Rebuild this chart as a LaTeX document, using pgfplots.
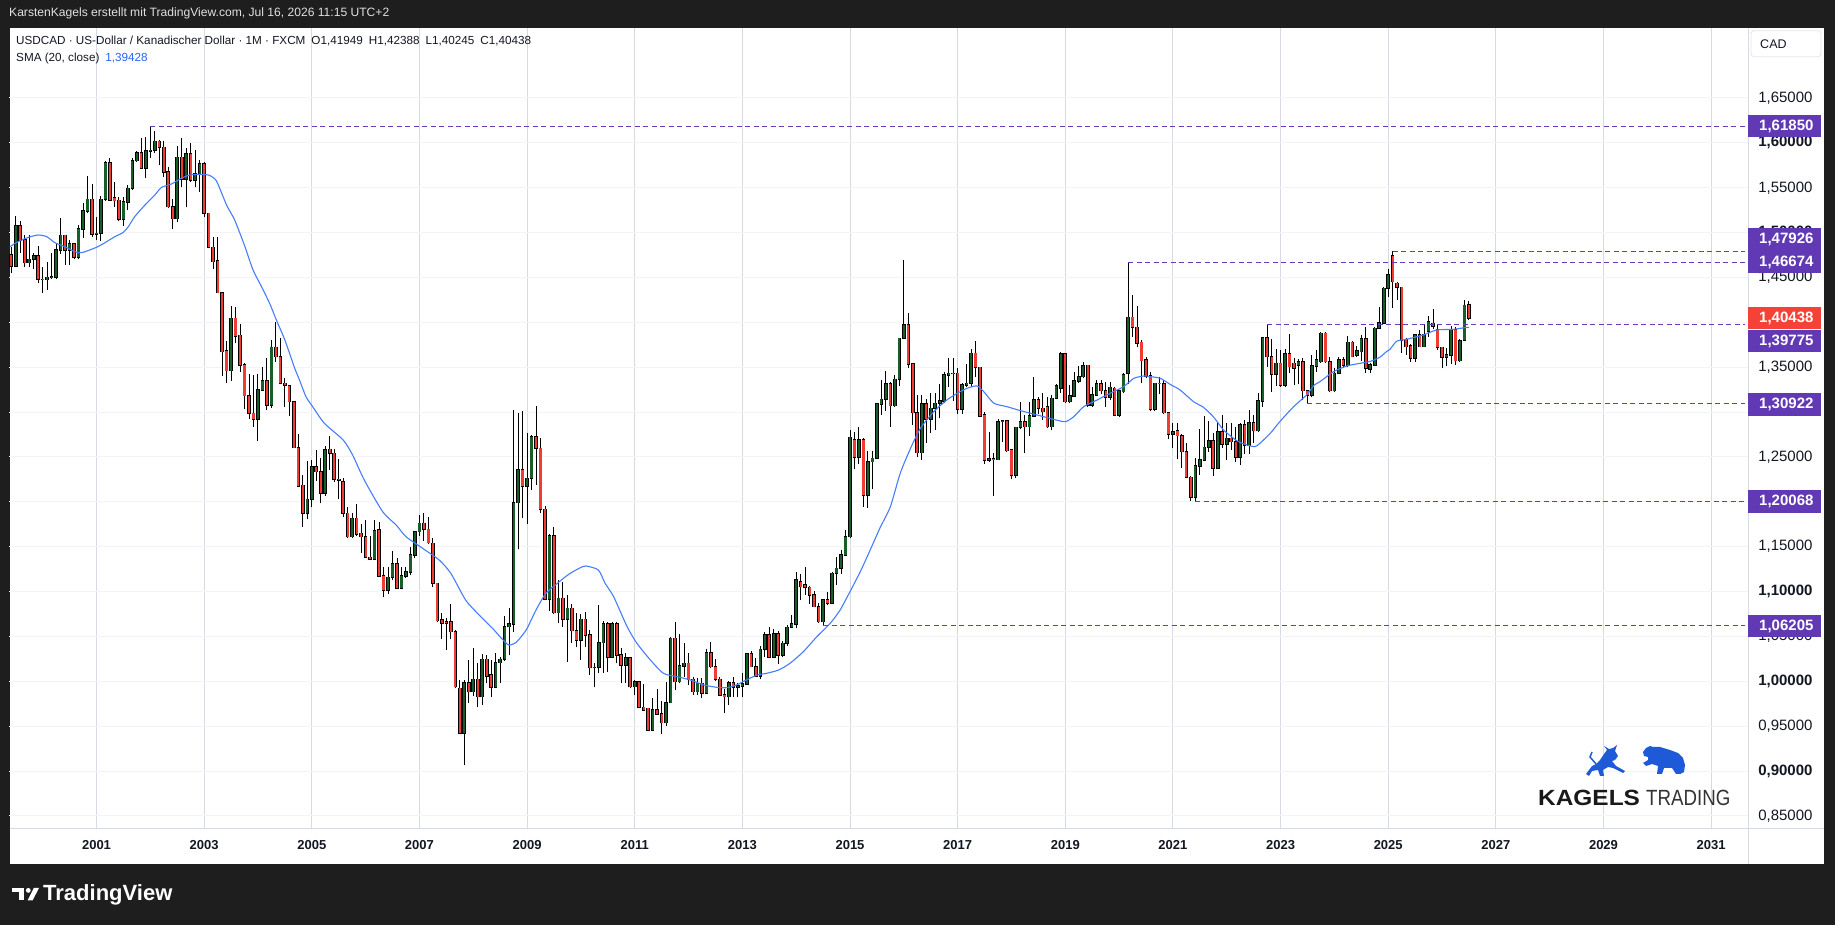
\documentclass[border=0pt]{standalone}
\usepackage{pgfplots}
\pgfplotsset{compat=1.18}
\usepackage{pgfplotstable}
\usepackage{fontspec}
\setmainfont{Liberation Sans}
\definecolor{frame}{RGB}{30,30,30}
\definecolor{upc}{RGB}{24,94,40}
\definecolor{dnc}{RGB}{240,60,50}
\definecolor{gridc}{RGB}{214,218,228}
\definecolor{hgrid}{RGB}{243,244,248}
\definecolor{lvl}{RGB}{103,58,183}
\definecolor{lvlbox}{RGB}{98,57,180}
\definecolor{curbox}{RGB}{244,67,54}
\definecolor{sma}{RGB}{70,125,255}
\definecolor{smatxt}{RGB}{41,98,255}
\definecolor{txt}{RGB}{19,23,34}
\definecolor{logoblue}{RGB}{30,90,215}

\pgfplotstableread{
m o h l c
-19 1.4750 1.4843 1.4546 1.4628
-18 1.4628 1.5185 1.4613 1.5073
-17 1.5073 1.5133 1.4769 1.4917
-16 1.4917 1.4973 1.4620 1.4665
-15 1.4665 1.4973 1.4620 1.4702
-14 1.4702 1.4769 1.4590 1.4739
-13 1.4739 1.4850 1.4434 1.4479
-12 1.4479 1.4620 1.4330 1.4475
-11 1.4475 1.4676 1.4360 1.4501
-10 1.4501 1.4769 1.4487 1.4505
-9 1.4505 1.4888 1.4487 1.4806
-8 1.4806 1.5159 1.4761 1.4969
-7 1.4969 1.4975 1.4639 1.4806
-6 1.4806 1.4917 1.4639 1.4873
-5 1.4873 1.4880 1.4702 1.4724
-4 1.4724 1.5085 1.4702 1.5040
-3 1.5040 1.5326 1.4936 1.5241
-2 1.5241 1.5631 1.5215 1.5371
-1 1.5371 1.5541 1.4955 1.4984
0 1.4984 1.5170 1.4917 1.4990
1 1.4990 1.5408 1.4910 1.5371
2 1.5371 1.5801 1.5356 1.5779
3 1.5779 1.5827 1.5356 1.5363
4 1.5385 1.5567 1.5289 1.5356
5 1.5360 1.5393 1.5133 1.5148
6 1.5148 1.5393 1.5073 1.5341
7 1.5341 1.5530 1.5252 1.5493
8 1.5493 1.5827 1.5475 1.5801
9 1.5801 1.5913 1.5790 1.5891
10 1.5891 1.6050 1.5716 1.5716
11 1.5716 1.6061 1.5605 1.5909
12 1.5909 1.6185 1.5835 1.5915
13 1.5915 1.6136 1.5883 1.6017
14 1.6017 1.6032 1.5753 1.5950
15 1.5950 1.6024 1.5616 1.5675
16 1.5675 1.5727 1.5270 1.5289
17 1.5289 1.5371 1.5036 1.5155
18 1.5155 1.5965 1.5122 1.5839
19 1.5839 1.6050 1.5504 1.5593
20 1.5593 1.5939 1.5281 1.5876
21 1.5876 1.5995 1.5567 1.5586
22 1.5586 1.5920 1.5504 1.5653
23 1.5653 1.5809 1.5456 1.5764
24 1.5764 1.5790 1.5177 1.5215
25 1.5215 1.5220 1.4830 1.4836
26 1.4836 1.4947 1.4590 1.4676
27 1.4683 1.4947 1.4323 1.4330
28 1.4330 1.4335 1.3406 1.3673
29 1.3680 1.3796 1.3320 1.3461
30 1.3461 1.4182 1.3350 1.4044
31 1.4044 1.4167 1.3766 1.3848
32 1.3855 1.3981 1.3450 1.3521
33 1.3525 1.3543 1.3030 1.3183
34 1.3183 1.3424 1.2919 1.2986
35 1.2986 1.3413 1.2837 1.2919
36 1.2919 1.3424 1.2681 1.3246
37 1.3246 1.3506 1.3239 1.3350
38 1.3350 1.3599 1.3023 1.3079
39 1.3079 1.3803 1.3042 1.3721
40 1.3721 1.4007 1.3562 1.3617
41 1.3617 1.3822 1.3309 1.3320
42 1.3320 1.3383 1.3060 1.3298
43 1.3290 1.3295 1.2956 1.3116
44 1.3116 1.3120 1.2596 1.2603
45 1.2603 1.2755 1.2169 1.2176
46 1.2183 1.2299 1.1723 1.1871
47 1.1871 1.2458 1.1805 1.2027
48 1.2028 1.2466 1.1946 1.2392
49 1.2392 1.2578 1.2236 1.2336
50 1.2336 1.2485 1.1983 1.2095
51 1.2095 1.2622 1.2065 1.2578
52 1.2585 1.2734 1.2355 1.2540
53 1.2540 1.2585 1.2225 1.2251
54 1.2251 1.2474 1.2028 1.2245
55 1.2222 1.2262 1.1835 1.1872
56 1.1872 1.1946 1.1593 1.1612
57 1.1612 1.1872 1.1593 1.1816
58 1.1816 1.1976 1.1619 1.1641
59 1.1648 1.1753 1.1433 1.1612
60 1.1612 1.1798 1.1370 1.1381
61 1.1381 1.1619 1.1350 1.1362
62 1.1359 1.1798 1.1352 1.1679
63 1.1686 1.1779 1.1166 1.1173
64 1.1173 1.1277 1.0936 1.1018
65 1.1018 1.1277 1.0973 1.1159
66 1.1159 1.1456 1.1129 1.1307
67 1.1307 1.1370 1.1030 1.1036
68 1.1036 1.1277 1.1025 1.1173
69 1.1173 1.1277 1.1147 1.1218
70 1.1218 1.1500 1.1185 1.1407
71 1.1407 1.1679 1.1370 1.1667
72 1.1667 1.1853 1.1619 1.1760
73 1.1760 1.1872 1.1567 1.1694
74 1.1694 1.1827 1.1530 1.1545
75 1.1538 1.1593 1.1055 1.1092
76 1.1092 1.1100 1.0665 1.0676
77 1.0683 1.0765 1.0468 1.0646
78 1.0661 1.0702 1.0349 1.0646
79 1.0661 1.0862 1.0468 1.0553
80 1.0553 1.0570 0.9922 0.9940
81 0.9922 1.0015 0.9410 0.9420
82 0.9420 1.0015 0.9064 0.9985
83 0.9985 1.0237 0.9762 0.9885
84 0.9885 1.0367 0.9836 1.0022
85 1.0022 1.0200 0.9710 0.9829
86 0.9829 1.0304 0.9736 1.0245
87 1.0245 1.0293 0.9977 1.0059
88 1.0070 1.0237 0.9822 0.9933
89 0.9933 1.0312 0.9922 1.0208
90 1.0208 1.0275 0.9977 1.0245
91 1.0245 1.0728 1.0230 1.0609
92 1.0609 1.0813 1.0293 1.0639
93 1.0639 1.3023 1.0553 1.1991
94 1.1991 1.2994 1.1471 1.2355
95 1.2355 1.3016 1.1816 1.2176
96 1.2176 1.2763 1.1753 1.2262
97 1.2262 1.2745 1.2132 1.2726
98 1.2726 1.3068 1.2188 1.2596
99 1.2596 1.2708 1.1872 1.1916
100 1.1916 1.1953 1.0906 1.0913
101 1.0913 1.1642 1.0787 1.1619
102 1.1619 1.1723 1.0750 1.0765
103 1.0765 1.1129 1.0646 1.0925
104 1.0925 1.1110 1.0609 1.0691
105 1.0691 1.0962 1.0219 1.0813
106 1.0813 1.0862 1.0431 1.0564
107 1.0564 1.0757 1.0379 1.0460
108 1.0460 1.0750 1.0237 1.0691
109 1.0691 1.0776 1.0386 1.0516
110 1.0516 1.0572 1.0070 1.0152
111 1.0152 1.0200 0.9933 1.0155
112 1.0155 1.0850 1.0089 1.0431
113 1.0431 1.0676 1.0096 1.0639
114 1.0639 1.0665 1.0107 1.0267
115 1.0267 1.0665 1.0256 1.0639
116 1.0639 1.0665 1.0200 1.0293
117 1.0293 1.0367 0.9985 1.0182
118 1.0182 1.0312 0.9977 1.0263
119 1.0263 1.0275 0.9929 0.9940
120 0.9940 1.0015 0.9847 0.9996
121 0.9996 1.0007 0.9699 0.9710
122 0.9710 0.9970 0.9673 0.9680
123 0.9699 0.9702 0.9450 0.9457
124 0.9457 0.9810 0.9450 0.9680
125 0.9680 0.9910 0.9625 0.9636
126 0.9636 0.9784 0.9413 0.9539
127 0.9539 0.9996 0.9502 0.9762
128 0.9762 1.0497 0.9755 1.0479
129 1.0479 1.0665 0.9903 0.9996
130 0.9996 1.0527 0.9977 1.0171
131 1.0171 1.0423 1.0052 1.0200
132 1.0200 1.0312 0.9959 1.0022
133 1.0022 1.0052 0.9847 0.9885
134 0.9885 1.0033 0.9847 0.9977
135 0.9977 1.0033 0.9810 0.9866
136 0.9866 1.0356 0.9859 1.0319
137 1.0319 1.0442 1.0145 1.0163
138 1.0163 1.0245 1.0007 1.0022
139 1.0022 1.0052 0.9836 0.9847
140 0.9847 0.9910 0.9643 0.9829
141 0.9829 1.0007 0.9736 0.9985
142 0.9985 1.0052 0.9821 0.9933
143 0.9933 0.9977 0.9829 0.9948
144 0.9945 1.0096 0.9821 0.9970
145 0.9970 1.0312 0.9959 1.0304
146 1.0304 1.0341 1.0156 1.0163
147 1.0163 1.0256 1.0052 1.0059
148 1.0059 1.0393 1.0022 1.0356
149 1.0356 1.0553 1.0267 1.0516
150 1.0516 1.0601 1.0256 1.0267
151 1.0267 1.0579 1.0256 1.0527
152 1.0527 1.0564 1.0193 1.0293
153 1.0293 1.0453 1.0275 1.0423
154 1.0423 1.0627 1.0393 1.0601
155 1.0601 1.0739 1.0590 1.0639
156 1.0639 1.1222 1.0590 1.1129
157 1.1110 1.1196 1.0906 1.1055
158 1.1073 1.1278 1.0962 1.1047
159 1.1047 1.1062 1.0861 1.0962
160 1.0962 1.1010 1.0824 1.0832
161 1.0832 1.0869 1.0654 1.0665
162 1.0665 1.0913 1.06205 1.0906
163 1.0906 1.0999 1.0850 1.0869
164 1.0869 1.1222 1.0861 1.1203
165 1.1203 1.1389 1.1073 1.1259
166 1.1259 1.1463 1.1196 1.1408
167 1.1408 1.1686 1.1400 1.1612
168 1.1612 1.2801 1.1593 1.2719
169 1.2689 1.2782 1.2362 1.2496
170 1.2496 1.2838 1.2422 1.2689
171 1.2689 1.2708 1.1946 1.2076
172 1.2076 1.2570 1.1928 1.2448
173 1.2448 1.2570 1.2139 1.2485
174 1.2485 1.3098 1.2474 1.3090
175 1.3090 1.3358 1.2968 1.3142
176 1.3142 1.3458 1.3016 1.3313
177 1.3313 1.3339 1.2838 1.3072
178 1.3072 1.3413 1.3060 1.3365
179 1.3365 1.3825 1.3291 1.3822
180 1.3822 1.4695 1.3811 1.3970
181 1.3970 1.4108 1.3488 1.3536
182 1.3536 1.3551 1.2856 1.2994
183 1.2994 1.3190 1.2503 1.2548
184 1.2548 1.3190 1.2466 1.3090
185 1.3090 1.3142 1.2659 1.2919
186 1.2919 1.3209 1.2763 1.3042
187 1.3042 1.3209 1.2800 1.3098
188 1.3098 1.3313 1.2930 1.3124
189 1.3124 1.3450 1.3098 1.3413
190 1.3413 1.3599 1.3283 1.3432
191 1.3432 1.3599 1.3124 1.3428
192 1.3432 1.3488 1.2979 1.3031
193 1.3031 1.3320 1.2973 1.3302
194 1.3302 1.3536 1.3283 1.3320
195 1.3320 1.3699 1.3283 1.3655
196 1.3655 1.3792 1.3395 1.3499
197 1.3499 1.3505 1.2949 1.2956
198 1.2968 1.3005 1.2422 1.2466
199 1.2466 1.2782 1.2447 1.2478
200 1.2478 1.2540 1.2065 1.2470
201 1.2470 1.2919 1.2466 1.2893
202 1.2893 1.2912 1.2670 1.2901
203 1.2900 1.2912 1.2559 1.2570
204 1.2577 1.2585 1.2251 1.2299
205 1.2299 1.2838 1.2262 1.2830
206 1.2830 1.3116 1.2808 1.2893
207 1.2893 1.2967 1.2540 1.2838
208 1.2838 1.3116 1.2734 1.2956
209 1.2956 1.3395 1.2949 1.3135
210 1.3135 1.3172 1.2979 1.3042
211 1.3042 1.3209 1.2912 1.3005
212 1.3060 1.3172 1.2819 1.2838
213 1.2838 1.3190 1.2801 1.3153
214 1.3153 1.3313 1.3142 1.3291
215 1.3265 1.3673 1.3209 1.3647
216 1.3647 1.3662 1.3105 1.3116
217 1.3116 1.3302 1.3098 1.3179
218 1.3179 1.3450 1.3172 1.3346
219 1.3346 1.3514 1.3328 1.3395
220 1.3395 1.3562 1.3376 1.3514
221 1.3521 1.3525 1.3060 1.3079
222 1.3079 1.3283 1.3060 1.3190
223 1.3190 1.3358 1.3179 1.3313
224 1.3313 1.3358 1.3201 1.3239
225 1.3239 1.3339 1.3060 1.3164
226 1.3164 1.3339 1.3135 1.3276
227 1.3265 1.3283 1.2956 1.2967
228 1.2967 1.3246 1.2949 1.3239
229 1.3228 1.3432 1.3216 1.3413
230 1.3432 1.46674 1.3313 1.4056
231 1.4056 1.4305 1.3840 1.3944
232 1.3944 1.4182 1.3722 1.3766
233 1.3777 1.3803 1.3328 1.3573
234 1.3580 1.3618 1.3376 1.3402
235 1.3402 1.3450 1.3016 1.3031
236 1.3031 1.3328 1.3016 1.3320
237 1.3320 1.3387 1.3202 1.3318
238 1.3313 1.3358 1.2979 1.2993
239 1.2993 1.3005 1.2696 1.2752
240 1.2752 1.2875 1.2596 1.2780
241 1.2789 1.2882 1.2473 1.2737
242 1.2734 1.2756 1.2373 1.2559
243 1.2559 1.2659 1.2262 1.2273
244 1.2273 1.2290 1.2013 1.2050
245 1.2050 1.2485 1.20068 1.2399
246 1.2399 1.2808 1.2299 1.2466
247 1.2466 1.2956 1.2459 1.2607
248 1.2607 1.2904 1.2559 1.2682
249 1.2682 1.2771 1.2288 1.2373
250 1.2373 1.2882 1.2362 1.2782
251 1.2782 1.2968 1.2596 1.2644
252 1.2644 1.2875 1.2466 1.2708
253 1.2708 1.2875 1.2578 1.2670
254 1.2670 1.2830 1.2448 1.2496
255 1.2496 1.2882 1.2410 1.2856
256 1.2856 1.2912 1.2533 1.2633
257 1.2633 1.3023 1.2533 1.2882
258 1.2882 1.2968 1.2652 1.2793
259 1.2793 1.3216 1.2782 1.3124
260 1.3124 1.3840 1.3060 1.3829
261 1.3829 1.39775 1.3506 1.3618
262 1.3618 1.3811 1.3228 1.3424
263 1.3424 1.3699 1.3291 1.3543
264 1.3543 1.3692 1.3283 1.3302
265 1.3302 1.3699 1.3283 1.3647
266 1.3647 1.3866 1.3432 1.3506
267 1.3543 1.3599 1.3302 1.3488
268 1.3525 1.3588 1.3313 1.3562
269 1.3562 1.3599 1.3135 1.3239
270 1.3235 1.3246 1.30922 1.3190
271 1.3190 1.3636 1.3172 1.3514
272 1.3514 1.3692 1.3450 1.3580
273 1.3562 1.3896 1.3551 1.3878
274 1.3878 1.3896 1.3551 1.3562
275 1.3562 1.3618 1.3228 1.3239
276 1.3239 1.3488 1.3228 1.3432
277 1.3432 1.3610 1.3424 1.3580
278 1.3580 1.3610 1.3488 1.3525
279 1.3525 1.3848 1.3499 1.3777
280 1.3777 1.3790 1.3610 1.3618
281 1.3636 1.3736 1.3618 1.3684
282 1.3673 1.3859 1.3573 1.3814
283 1.3814 1.3944 1.3439 1.3488
284 1.3476 1.3543 1.3439 1.3525
285 1.3525 1.3944 1.3514 1.3933
286 1.3933 1.4175 1.3922 1.3996
287 1.3989 1.4398 1.3982 1.4379
288 1.4379 1.4591 1.4279 1.4528
289 1.4739 1.47926 1.4156 1.4453
290 1.4435 1.4453 1.4249 1.4390
291 1.4390 1.4395 1.3655 1.3803
292 1.3803 1.3822 1.3636 1.3729
293 1.3736 1.3759 1.3562 1.3599
294 1.3599 1.3865 1.3562 1.3859
295 1.3859 1.3915 1.3722 1.3729
296 1.3729 1.3970 1.3722 1.3859
297 1.3900 1.4071 1.3840 1.4004
298 1.3989 1.4145 1.3922 1.3960
299 1.3915 1.3970 1.3692 1.3722
300 1.3722 1.3729 1.3488 1.3610
301 1.3610 1.3711 1.3514 1.3636
302 1.3636 1.3959 1.3536 1.3915
303 1.3915 1.3944 1.3525 1.3573
304 1.3573 1.3811 1.3562 1.3792
305 1.3803 1.4249 1.3795 1.4190
306 1.41949 1.42388 1.40245 1.40438
}\candles

\newcommand\pbox[3]{%
  \fill[#1] (1748,#2-11.2) rectangle (1820.7,#2+11.2);
  \node[anchor=west, inner sep=0pt, text=white, font=\fontsize{15}{15}\selectfont\bfseries] at (1759,#2) {#3};}

\begin{document}
\begin{tikzpicture}[x=1pt,y=1pt]
\useasboundingbox (0,0) rectangle (1835,925);
\fill[frame] (0,0) rectangle (1835,925);
\fill[white] (9.5,61) rectangle (1824,897);

\begin{axis}[
  at={(9.5pt,96pt)}, anchor=south west, scale only axis,
  width=1738.5pt, height=801pt,
  xmin=-19.4, xmax=368.23, ymin=0.83542, ymax=1.728,
  axis line style={draw=none}, major tick length=0pt,
  xtick={0,24,...,360},
  xticklabels={2001,2003,2005,2007,2009,2011,2013,2015,2017,2019,2021,2023,2025,2027,2029,2031},
  xticklabel style={anchor=center, inner sep=0pt, yshift=-16.5pt, text=txt, font=\fontsize{13}{13}\selectfont\bfseries},
  ytick={0.85,0.90,0.95,1.00,1.05,1.10,1.15,1.20,1.25,1.30,1.35,1.40,1.45,1.50,1.55,1.60,1.65},
  yticklabels={{0,85000},{\bfseries 0,90000},{0,95000},{\bfseries 1,00000},{1,05000},{\bfseries 1,10000},{1,15000},{},{1,25000},{},{1,35000},{},{1,45000},{\bfseries 1,50000},{1,55000},{\bfseries 1,60000},{1,65000}},
  yticklabel pos=right,
  yticklabel style={anchor=west, inner sep=0pt, xshift=10pt, text=txt, font=\fontsize{15}{15}\selectfont},
  xmajorgrids, ymajorgrids,
  x grid style={gridc, line width=1pt},
  y grid style={hgrid, line width=1pt},
]
% wicks
\addplot[draw=none, mark=none, forget plot,
  error bars/.cd, y dir=plus, y explicit, error mark=none,
  error bar style={draw=black, line width=1pt}]
  table[x=m, y=l, y error expr=\thisrow{h}-\thisrow{l}] {\candles};
% up bodies
\addplot[draw=none, mark=none, forget plot,
  restrict expr to domain={\thisrow{c}-\thisrow{o}}{0:1},
  error bars/.cd, y dir=plus, y explicit, error mark=none,
  error bar style={draw=black, line width=3.6pt}]
  table[x=m, y expr=\thisrow{o}-0.0008, y error expr=\thisrow{c}-\thisrow{o}+0.0016] {\candles};
\addplot[draw=none, mark=none, forget plot,
  restrict expr to domain={\thisrow{c}-\thisrow{o}}{0:1},
  error bars/.cd, y dir=plus, y explicit, error mark=none,
  error bar style={draw=upc, line width=2.2pt}]
  table[x=m, y=o, y error expr=\thisrow{c}-\thisrow{o}] {\candles};
% down bodies
\addplot[draw=none, mark=none, forget plot,
  restrict expr to domain={\thisrow{o}-\thisrow{c}}{0.00001:1},
  error bars/.cd, y dir=plus, y explicit, error mark=none,
  error bar style={draw=black, line width=3.6pt}]
  table[x=m, y expr=\thisrow{c}-0.0008, y error expr=\thisrow{o}-\thisrow{c}+0.0016] {\candles};
\addplot[draw=none, mark=none, forget plot,
  restrict expr to domain={\thisrow{o}-\thisrow{c}}{0.00001:1},
  error bars/.cd, y dir=plus, y explicit, error mark=none,
  error bar style={draw=dnc, line width=2.2pt}]
  table[x=m, y=c, y error expr=\thisrow{o}-\thisrow{c}] {\candles};
% SMA 20
\addplot[sma, line width=1.1pt, smooth, tension=0.4, mark=none] coordinates {
(-19.3,1.4843) (-17.5,1.4899) (-15.2,1.4947) (-13,1.4973) (-11.1,1.4955) (-9.3,1.4888) (-7.1,1.4843) (-4.8,1.4787) (-3.3,1.4776) (0,1.4836) (1.9,1.4888) (4.1,1.4955) (5.9,1.5000) (7.1,1.5066) (8.5,1.5177) (10.8,1.5307) (13,1.5419) (14.5,1.5504) (16.7,1.5541) (18.9,1.5605) (20.8,1.5642) (23,1.5649) (24.9,1.5642) (26.7,1.5579) (29,1.5307) (30.8,1.5140) (33.1,1.4843) (34.9,1.4583) (36.8,1.4397) (38.6,1.4212) (40.1,1.4026) (42,1.3803) (44.2,1.3487) (45.2,1.3365) (46.7,1.3172) (48.2,1.3060) (50.8,1.2875) (55,1.2689) (57.1,1.2522) (59.7,1.2243) (63.8,1.1890) (66.8,1.1742) (69,1.1612) (72.7,1.1482) (76.4,1.1352) (79,1.1203) (82.3,1.0906) (85.3,1.0739) (88.3,1.0590) (90.5,1.0468) (91.9,1.0405) (93.5,1.0431) (95.8,1.0572) (98,1.0795) (100.2,1.0980) (103.2,1.1110) (105.4,1.1196) (107.6,1.1259) (109.1,1.1285) (111.9,1.1240) (113.4,1.1092) (115.3,1.0943) (118.3,1.0609) (120.5,1.0423) (123.5,1.0237) (126.4,1.0089) (129.4,1.0052) (132.4,1.0015) (135.4,0.9959) (138.3,0.9933) (140.6,0.9929) (142.7,0.9959) (144.9,1.0015) (147.3,1.0070) (149.4,1.0089) (152.1,1.0126) (154.6,1.0200) (157.6,1.0330) (160.6,1.0497) (163.6,1.0646) (165.8,1.0795) (168,1.0999) (170.3,1.1222) (172.5,1.1463) (174.7,1.1710) (177,1.1946) (179.2,1.2318) (181.5,1.2596) (183.7,1.2819) (186.7,1.3005) (189.6,1.3135) (191.9,1.3209) (194.1,1.3265) (196.3,1.3291) (197.8,1.3228) (200.1,1.3098) (203,1.3060) (206,1.3016) (209.7,1.2968) (213.4,1.2919) (216,1.2893) (217.9,1.2949) (220.1,1.3060) (223.1,1.3135) (226,1.3209) (229,1.3283) (231.3,1.3376) (233.5,1.3402) (235,1.3395) (237.2,1.3376) (239.4,1.3308) (241.6,1.3246) (244.6,1.3116) (246.8,1.3053) (249,1.2949) (251.3,1.2800) (254.2,1.2682) (256.5,1.2633) (258.3,1.2615) (259.4,1.2652) (261.7,1.2763) (263.9,1.2897) (266.9,1.3060) (269.8,1.3190) (271.5,1.3300) (272.8,1.3339) (275.8,1.3450) (278.8,1.3514) (281.7,1.3543) (284,1.3565) (286.1,1.3610) (287.6,1.3673) (288.4,1.3700) (289.9,1.3790) (292,1.3810) (295.8,1.3859) (298.8,1.3915) (302.5,1.3922) (305.5,1.3944) (306,1.39428)};
% horizontal levels
\addplot[lvl, line width=1.2pt, dash pattern=on 5pt off 3.5pt] coordinates {(12,1.6185) (367.6,1.6185)};
\addplot[lvl, line width=1.2pt, dash pattern=on 5pt off 3.5pt] coordinates {(289,1.47926) (367.6,1.47926)};
\addplot[lvl, line width=1.2pt, dash pattern=on 5pt off 3.5pt] coordinates {(230,1.46674) (367.6,1.46674)};
\addplot[lvl, line width=1.2pt, dash pattern=on 5pt off 3.5pt] coordinates {(261,1.39775) (367.6,1.39775)};
\addplot[lvl, line width=1.2pt, dash pattern=on 5pt off 3.5pt] coordinates {(270,1.30922) (367.6,1.30922)};
\addplot[lvl, line width=1.2pt, dash pattern=on 5pt off 3.5pt] coordinates {(245,1.20068) (367.6,1.20068)};
\addplot[lvl, line width=1.2pt, dash pattern=on 5pt off 3.5pt] coordinates {(162,1.06205) (367.6,1.06205)};
\end{axis}

% separators
\draw[gridc, line width=1pt] (1748,61) -- (1748,897);
\draw[gridc, line width=1pt] (9.5,96) -- (1824,96);

% price boxes
\pbox{lvlbox}{798.8}{1,61850}
\pbox{lvlbox}{685.5}{1,47926}
\pbox{lvlbox}{663}{1,46674}
\pbox{curbox}{606.7}{1,40438}
\pbox{lvlbox}{583.7}{1,39775}
\pbox{lvlbox}{520.5}{1,30922}
\pbox{lvlbox}{423.3}{1,20068}
\pbox{lvlbox}{298.8}{1,06205}

% CAD box
\draw[rounded corners=3pt, draw=black!10, fill=white, line width=0.8pt] (1751,868.3) rectangle (1821,894.3);
\node[anchor=west, inner sep=0pt, text=txt, font=\fontsize{12.5}{13}\selectfont] at (1760,881) {CAD};

% header and legend
\node[anchor=west, inner sep=0pt, text=white!88!black, font=\fontsize{12.1}{13}\selectfont] at (9,912) {KarstenKagels erstellt mit TradingView.com, Jul 16, 2026 11:15 UTC+2};
\node[anchor=west, inner sep=0pt, text=txt, font=\fontsize{11.7}{13}\selectfont] at (16,883.5) {USDCAD · US-Dollar / Kanadischer Dollar · 1M · FXCM\hspace{6pt}O1,41949\hspace{6pt}H1,42388\hspace{6pt}L1,40245\hspace{6pt}C1,40438};
\node[anchor=west, inner sep=0pt, text=txt, font=\fontsize{11.7}{13}\selectfont] at (16,867) {SMA (20, close)\hspace{6pt}\textcolor{smatxt}{1,39428}};

% TradingView logo
\fill[white] (12,37) rectangle (24,32.5);
\fill[white] (18.5,32.5) rectangle (24,24.5);
\fill[white] (28.3,34.6) circle (2.4);
\fill[white] (27.5,24.5) -- (32.5,24.5) -- (39,37) -- (33.8,37) -- cycle;
\node[anchor=west, inner sep=0pt, text=white, font=\fontsize{22}{22}\selectfont\bfseries] at (43,30.5) {TradingView};

% KAGELS TRADING logo
\fill[logoblue] (1586,151) -- (1592,159) -- (1596,161) -- (1600,165) -- (1604,171) -- (1607,175) -- (1604,179) -- (1609,176) -- (1613,177) -- (1617,180) -- (1615,174) -- (1618,169) -- (1615,165) -- (1612,164) -- (1616,159) -- (1625,154) -- (1623,152) -- (1613,157) -- (1608,158) -- (1603,155) -- (1604,149) -- (1600,149) -- (1598,155) -- (1592,154) -- (1589,149) -- cycle;
\draw[logoblue, line width=1.5pt] (1596,161) -- (1590,168) -- (1592,173);
\fill[logoblue] (1643,173) -- (1646,177) -- (1650,179) -- (1653,178) -- (1660,178) -- (1670,175) -- (1678,172) -- (1683,167) -- (1685,160) -- (1684,153) -- (1680,151) -- (1676,151) -- (1672,157) -- (1664,157) -- (1662,151) -- (1657,151) -- (1658,159) -- (1652,161) -- (1646,159) -- (1643,162) -- (1648,165) -- (1648,168) -- (1644,169) -- cycle;
\node[anchor=base west, inner sep=0pt, text=black!90, font=\fontsize{22}{22}\selectfont\bfseries] at (1538,119) {\scalebox{1.11}[1]{KAGELS}};
\node[anchor=base west, inner sep=0pt, text=black!80, font=\fontsize{22}{22}\selectfont] at (1646,119) {\scalebox{0.85}[1]{TRADING}};
\end{tikzpicture}
\end{document}
